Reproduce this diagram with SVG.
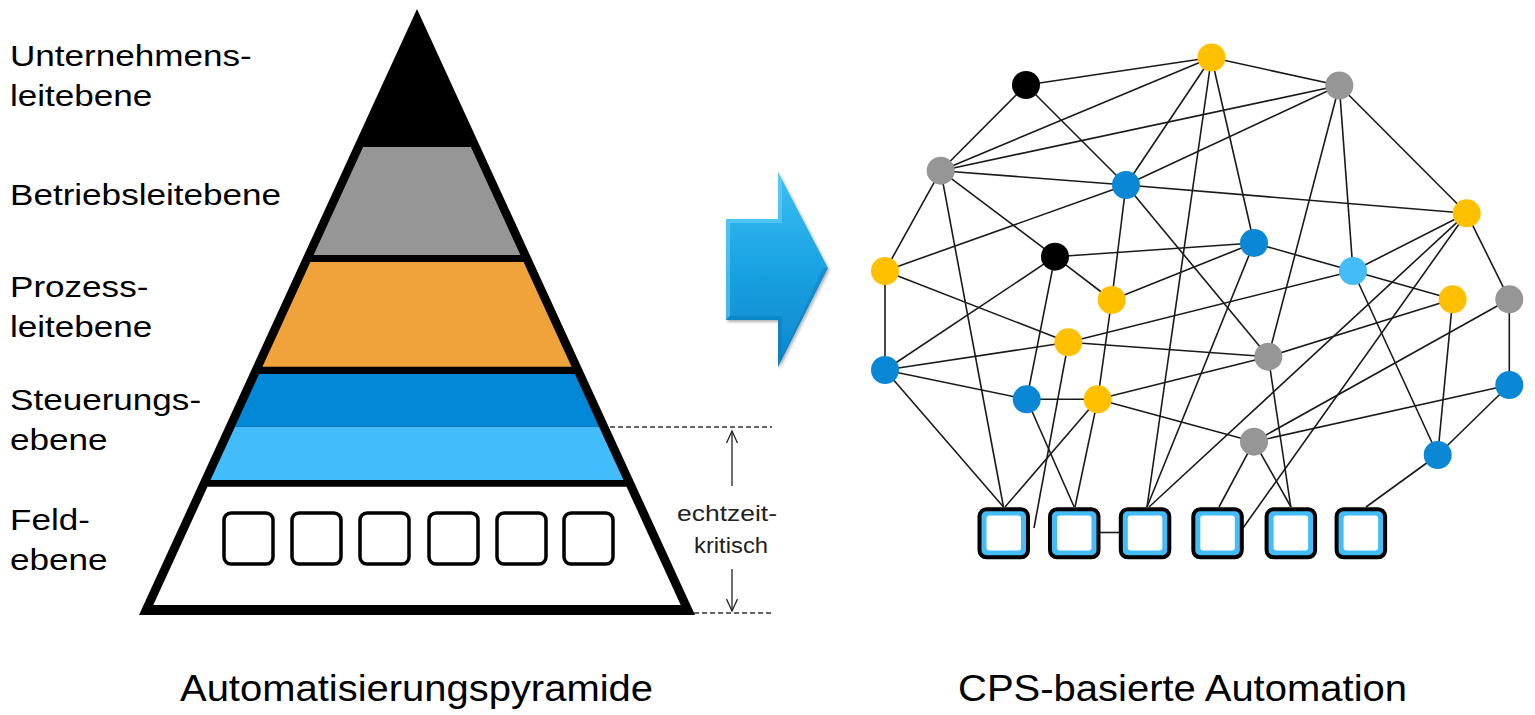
<svg xmlns="http://www.w3.org/2000/svg" width="1535" height="715" viewBox="0 0 1535 715">
<style>
  text { font-family: "Liberation Sans", Arial, sans-serif; fill: #000; }
  .lbl { font-size: 30px; }
  .title { font-size: 37px; }
  .small { font-size: 22px; fill: #222; }
  .edge { stroke: #1a1a1a; stroke-width: 1.6; fill: none; }
  .dash { stroke: #333; stroke-width: 1.3; stroke-dasharray: 5 3; fill: none; }
  .thin { stroke: #222; stroke-width: 1.3; fill: none; }
  .ny { fill: #ffc000; }
  .nb { fill: #0a88d6; }
  .ng { fill: #969696; }
  .nk { fill: #000; }
  .nl { fill: #43bcf8; }
  .sq-o { fill: #43bcf8; stroke: #000; stroke-width: 4; }
  .sq-i { fill: #fff; }
  .psq { fill: #fff; stroke: #000; stroke-width: 3.5; }
</style>
<defs>
  <linearGradient id="arrowGrad" x1="0" y1="0" x2="0" y2="1">
    <stop offset="0" stop-color="#3cc0f4"/>
    <stop offset="0.5" stop-color="#1aa2e2"/>
    <stop offset="1" stop-color="#0d86cc"/>
  </linearGradient>
  <filter id="shadow" x="-20%" y="-20%" width="140%" height="140%">
    <feDropShadow dx="1.5" dy="2" stdDeviation="1.5" flood-color="#000" flood-opacity="0.3"/>
  </filter>
</defs>
<rect width="1535" height="715" fill="#fff"/>

<!-- Pyramid -->
<g id="pyramid">
  <polygon points="417,9 139,615 695,615" fill="#000"/>
  <polygon points="363.1,147 470.9,147 520.4,255 313.6,255" fill="#969696"/>
  <polygon points="310.4,262 523.6,262 571.6,366.7 262.4,366.7" fill="#f1a33b"/>
  <polygon points="259.1,374 574.9,374 599,426.7 235,426.7" fill="#0288d6"/>
  <polygon points="235,426.7 599,426.7 623.5,480 210.5,480" fill="#43bcfb"/>
  <polygon points="207.5,486.7 626.5,486.7 680.7,605 153.3,605" fill="#fff"/>
  <g id="field-devices">
    <rect class="psq" x="224" y="513" width="49" height="51" rx="7"/>
    <rect class="psq" x="292" y="513" width="49" height="51" rx="7"/>
    <rect class="psq" x="360" y="513" width="49" height="51" rx="7"/>
    <rect class="psq" x="429" y="513" width="49" height="51" rx="7"/>
    <rect class="psq" x="497" y="513" width="49" height="51" rx="7"/>
    <rect class="psq" x="564" y="513" width="49" height="51" rx="7"/>
  </g>
</g>

<!-- Level labels -->
<g id="labels" transform="translate(10,0) scale(1.17,1)">
  <text class="lbl" x="0" y="66.5">Unternehmens-</text>
  <text class="lbl" x="0" y="106.5">leitebene</text>
  <text class="lbl" x="0" y="205">Betriebsleitebene</text>
  <text class="lbl" x="0" y="297">Prozess-</text>
  <text class="lbl" x="0" y="337">leitebene</text>
  <text class="lbl" x="0" y="410">Steuerungs-</text>
  <text class="lbl" x="0" y="450">ebene</text>
  <text class="lbl" x="0" y="530">Feld-</text>
  <text class="lbl" x="0" y="570">ebene</text>
</g>

<!-- Real-time critical marker -->
<g id="echtzeit">
  <line class="dash" x1="610" y1="427" x2="772" y2="427"/>
  <line class="dash" x1="694" y1="613" x2="772" y2="613"/>
  <line class="thin" x1="732" y1="486" x2="732" y2="431"/>
  <polyline class="thin" points="726.5,443 732,431 737.5,443"/>
  <line class="thin" x1="732" y1="569" x2="732" y2="611"/>
  <polyline class="thin" points="726.5,599 732,611 737.5,599"/>
  <text class="small" x="677" y="521" textLength="100" lengthAdjust="spacingAndGlyphs">echtzeit-</text>
  <text class="small" x="694" y="553" textLength="74" lengthAdjust="spacingAndGlyphs">kritisch</text>
</g>

<!-- Big arrow -->
<g id="big-arrow" filter="url(#shadow)">
  <polygon points="726,219 778,219 778,172 828,268 778,367 778,320 726,320" fill="url(#arrowGrad)"/>
  <polygon points="726,219 778,219 778,172 782,182 782,223 730,223 730,316 726,320" fill="#6fd3fa" opacity="0.55"/>
  <polygon points="828,268 778,367 778,320 726,320 730,316 782,316 782,357 823,268" fill="#0a6fae" opacity="0.35"/>
</g>

<!-- Network connectors -->
<g id="connectors" class="edge">
  <line x1="1026" y1="85" x2="1211.5" y2="57.5"/>
  <line x1="1026" y1="85" x2="940.7" y2="170.7"/>
  <line x1="1026" y1="85" x2="1126" y2="185"/>
  <line x1="1211.5" y1="57.5" x2="1339.3" y2="85.5"/>
  <line x1="1211.5" y1="57.5" x2="940.7" y2="170.7"/>
  <line x1="1211.5" y1="57.5" x2="1126" y2="185"/>
  <line x1="1211.5" y1="57.5" x2="1254" y2="243"/>
  <line x1="1211.5" y1="57.5" x2="1147" y2="507"/>
  <line x1="1339.3" y1="85.5" x2="940.7" y2="170.7"/>
  <line x1="1339.3" y1="85.5" x2="1126" y2="185"/>
  <line x1="1339.3" y1="85.5" x2="1353" y2="271"/>
  <line x1="1339.3" y1="85.5" x2="1466.7" y2="213.3"/>
  <line x1="1339.3" y1="85.5" x2="1268.3" y2="356.7"/>
  <line x1="940.7" y1="170.7" x2="1126" y2="185"/>
  <line x1="940.7" y1="170.7" x2="1055" y2="256.7"/>
  <line x1="940.7" y1="170.7" x2="885" y2="271"/>
  <line x1="940.7" y1="170.7" x2="1003.5" y2="507"/>
  <line x1="1126" y1="185" x2="1466.7" y2="213.3"/>
  <line x1="1126" y1="185" x2="885" y2="271"/>
  <line x1="1126" y1="185" x2="1111.7" y2="300"/>
  <line x1="1126" y1="185" x2="1268.3" y2="356.7"/>
  <line x1="1466.7" y1="213.3" x2="1353" y2="271"/>
  <line x1="1466.7" y1="213.3" x2="1509.3" y2="299.3"/>
  <line x1="1466.7" y1="213.3" x2="1149" y2="507"/>
  <line x1="1466.7" y1="213.3" x2="1243" y2="528"/>
  <line x1="1254" y1="243" x2="1055" y2="256.7"/>
  <line x1="1254" y1="243" x2="1111.7" y2="300"/>
  <line x1="1254" y1="243" x2="1353" y2="271"/>
  <line x1="1254" y1="243" x2="1147" y2="507"/>
  <line x1="1055" y1="256.7" x2="885" y2="370"/>
  <line x1="1055" y1="256.7" x2="1026.7" y2="399.3"/>
  <line x1="1055" y1="256.7" x2="1111.7" y2="300"/>
  <line x1="885" y1="271" x2="1068.3" y2="342.3"/>
  <line x1="885" y1="271" x2="885" y2="370"/>
  <line x1="1353" y1="271" x2="1068.3" y2="342.3"/>
  <line x1="1353" y1="271" x2="1452.7" y2="299.3"/>
  <line x1="1353" y1="271" x2="1437.7" y2="455"/>
  <line x1="1111.7" y1="300" x2="1097.7" y2="399.3"/>
  <line x1="1452.7" y1="299.3" x2="1268.3" y2="356.7"/>
  <line x1="1452.7" y1="299.3" x2="1437.7" y2="455"/>
  <line x1="1509.3" y1="299.3" x2="1509.3" y2="385"/>
  <line x1="1509.3" y1="299.3" x2="1254" y2="441.7"/>
  <line x1="1068.3" y1="342.3" x2="1268.3" y2="356.7"/>
  <line x1="1068.3" y1="342.3" x2="885" y2="370"/>
  <line x1="1068.3" y1="342.3" x2="1034" y2="528"/>
  <line x1="1268.3" y1="356.7" x2="1097.7" y2="399.3"/>
  <line x1="1268.3" y1="356.7" x2="1290.8" y2="507"/>
  <line x1="885" y1="370" x2="1026.7" y2="399.3"/>
  <line x1="885" y1="370" x2="1003.5" y2="507"/>
  <line x1="1026.7" y1="399.3" x2="1097.7" y2="399.3"/>
  <line x1="1026.7" y1="399.3" x2="1074.2" y2="507"/>
  <line x1="1097.7" y1="399.3" x2="1005" y2="507"/>
  <line x1="1097.7" y1="399.3" x2="1075" y2="507"/>
  <line x1="1097.7" y1="399.3" x2="1254" y2="441.7"/>
  <line x1="1509.3" y1="385" x2="1254" y2="441.7"/>
  <line x1="1509.3" y1="385" x2="1437.7" y2="455"/>
  <line x1="1254" y1="441.7" x2="1219" y2="507"/>
  <line x1="1254" y1="441.7" x2="1291" y2="507"/>
  <line x1="1437.7" y1="455" x2="1366" y2="507"/>
  <line x1="1100" y1="532.5" x2="1119" y2="532.5"/>
</g>

<!-- Network nodes -->
<g id="node-K1"><circle class="nk" cx="1026" cy="85" r="14"/></g>
<g id="node-Y1"><circle class="ny" cx="1211.5" cy="57.5" r="14"/></g>
<g id="node-G1"><circle class="ng" cx="1339.3" cy="85.5" r="14"/></g>
<g id="node-G2"><circle class="ng" cx="940.7" cy="170.7" r="14"/></g>
<g id="node-B1"><circle class="nb" cx="1126" cy="185" r="14"/></g>
<g id="node-Y2"><circle class="ny" cx="1466.7" cy="213.3" r="14"/></g>
<g id="node-B2"><circle class="nb" cx="1254" cy="243" r="14"/></g>
<g id="node-K2"><circle class="nk" cx="1055" cy="256.7" r="14"/></g>
<g id="node-Y3"><circle class="ny" cx="885" cy="271" r="14"/></g>
<g id="node-LB"><circle class="nl" cx="1353" cy="271" r="14"/></g>
<g id="node-Y4"><circle class="ny" cx="1111.7" cy="300" r="14"/></g>
<g id="node-Y5"><circle class="ny" cx="1452.7" cy="299.3" r="14"/></g>
<g id="node-G3"><circle class="ng" cx="1509.3" cy="299.3" r="14"/></g>
<g id="node-Y6"><circle class="ny" cx="1068.3" cy="342.3" r="14"/></g>
<g id="node-G4"><circle class="ng" cx="1268.3" cy="356.7" r="14"/></g>
<g id="node-B3"><circle class="nb" cx="885" cy="370" r="14"/></g>
<g id="node-B4"><circle class="nb" cx="1026.7" cy="399.3" r="14"/></g>
<g id="node-Y7"><circle class="ny" cx="1097.7" cy="399.3" r="14"/></g>
<g id="node-B5"><circle class="nb" cx="1509.3" cy="385" r="14"/></g>
<g id="node-G5"><circle class="ng" cx="1254" cy="441.7" r="14"/></g>
<g id="node-B6"><circle class="nb" cx="1437.7" cy="455" r="14"/></g>

<!-- Field device squares -->
<g id="node-S1"><rect class="sq-o" x="979.5" y="509.3" width="48.5" height="48" rx="7"/><rect class="sq-i" x="986.5" y="515.5" width="34.5" height="35" rx="3"/></g>
<g id="node-S2"><rect class="sq-o" x="1050" y="509.3" width="48.5" height="48" rx="7"/><rect class="sq-i" x="1057" y="515.5" width="34.5" height="35" rx="3"/></g>
<g id="node-S3"><rect class="sq-o" x="1120.8" y="509.3" width="48.5" height="48" rx="7"/><rect class="sq-i" x="1127.8" y="515.5" width="34.5" height="35" rx="3"/></g>
<g id="node-S4"><rect class="sq-o" x="1193.3" y="509.3" width="48.5" height="48" rx="7"/><rect class="sq-i" x="1200.3" y="515.5" width="34.5" height="35" rx="3"/></g>
<g id="node-S5"><rect class="sq-o" x="1266.6" y="509.3" width="48.5" height="48" rx="7"/><rect class="sq-i" x="1273.6" y="515.5" width="34.5" height="35" rx="3"/></g>
<g id="node-S6"><rect class="sq-o" x="1336.6" y="509.3" width="48.5" height="48" rx="7"/><rect class="sq-i" x="1343.6" y="515.5" width="34.5" height="35" rx="3"/></g>

<!-- Titles -->
<text class="title" x="180" y="701" textLength="473" lengthAdjust="spacingAndGlyphs">Automatisierungspyramide</text>
<text class="title" x="958" y="701" textLength="449" lengthAdjust="spacingAndGlyphs">CPS-basierte Automation</text>
</svg>
